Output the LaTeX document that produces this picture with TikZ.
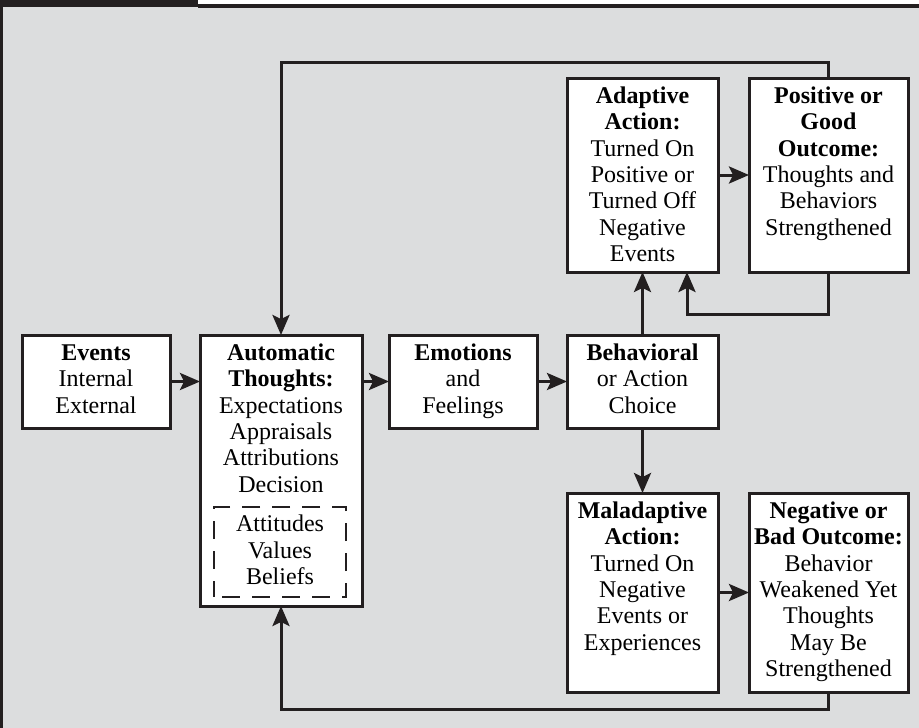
\documentclass[tikz,border=0pt]{standalone}
\usepackage{fontspec}
\setmainfont{Liberation Serif}
\usetikzlibrary{arrows.meta}
\definecolor{ink}{RGB}{35,31,32}
\definecolor{bg}{RGB}{220,221,222}
\newcommand{\boxtxt}[4]{\parbox[c][#2pt][t]{#1pt}{\centering\fontsize{24}{26.3}\selectfont\rule{0pt}{#3pt}\ignorespaces#4\par}}
\tikzset{
  bx/.style={draw=ink, line width=3pt, fill=white, inner sep=0pt, outer sep=0pt, anchor=north west},
  dbx/.style={draw=ink, line width=1.8pt, dash pattern=on 18pt off 12pt, dash phase=-8pt, inner sep=0pt, outer sep=0pt, anchor=north west},
  arr/.style={draw=ink, line width=3pt, -{Stealth[length=20pt,width=17pt,inset=4pt]}},
}
\begin{document}
\begin{tikzpicture}[x=1pt,y=-1pt]
\useasboundingbox (0,0) rectangle (919,728);
% background and frame
\fill[white] (0,0) rectangle (919,728);
\fill[bg] (0,7) rectangle (919,728);
\fill[ink] (0,0) rectangle (198,7);
\fill[ink] (198,4) rectangle (919,7.5);
\fill[ink] (0,0) rectangle (3,728);
% boxes
\node[bx] (events) at (22,335) {\boxtxt{148}{93}{25.5}{\textbf{Events}\\Internal\\External}};
\node[bx] (at) at (200,335) {\boxtxt{162}{271}{25.5}{\textbf{Automatic}\\\textbf{Thoughts:}\\Expectations\\Appraisals\\Attributions\\Decision}};
\node[dbx] (dashbox) at (214,507) {\boxtxt{132}{90}{24.7}{Attitudes\\Values\\Beliefs}};
\node[bx] (emo) at (389,335) {\boxtxt{148}{93}{25.5}{\textbf{Emotions}\\and\\Feelings}};
\node[bx] (beh) at (567,335) {\boxtxt{151}{93}{25.5}{\textbf{Behavioral}\\or Action\\Choice}};
\node[bx] (ad) at (567,78) {\boxtxt{151}{194}{25.5}{\textbf{Adaptive}\\\textbf{Action:}\\Turned On\\Positive or\\Turned Off\\Negative\\Events}};
\node[bx] (pos) at (749,78) {\boxtxt{159}{194}{25.5}{\textbf{Positive or}\\\textbf{Good}\\\textbf{Outcome:}\\Thoughts and\\Behaviors\\Strengthened}};
\node[bx] (mal) at (567,493) {\boxtxt{151}{199}{25.5}{\textbf{Maladaptive}\\\textbf{Action:}\\Turned On\\Negative\\Events or\\Experiences}};
\node[bx] (neg) at (749,493) {\boxtxt{159}{199}{25.5}{\textbf{Negative or}\\\textbf{Bad Outcome:}\\Behavior\\Weakened Yet\\Thoughts\\May Be\\Strengthened}};
% helper coordinates
\coordinate (topy) at (0,62);
\coordinate (boty) at (0,709);
\coordinate (fbturn) at (687,314);
% connectors
\draw[arr] (events.east) -- (events.east -| at.west);
\draw[arr] (events.east -| at.east) -- (emo.west);
\draw[arr] (emo.east) -- (beh.west);
\draw[arr] (beh.north) -- (ad.south);
\draw[arr] (beh.south) -- (beh.south |- mal.north);
\draw[arr] (ad.east) -- (ad.east -| pos.west);
\draw[arr] (mal.east) -- (mal.east -| neg.west);
\draw[arr] (pos.south) |- (fbturn) -- (fbturn |- ad.south);
\draw[arr] (pos.north) |- (at.north |- topy) -- (at.north);
\draw[arr] (neg.south) |- (at.south |- boty) -- (at.south);
\end{tikzpicture}
\end{document}
